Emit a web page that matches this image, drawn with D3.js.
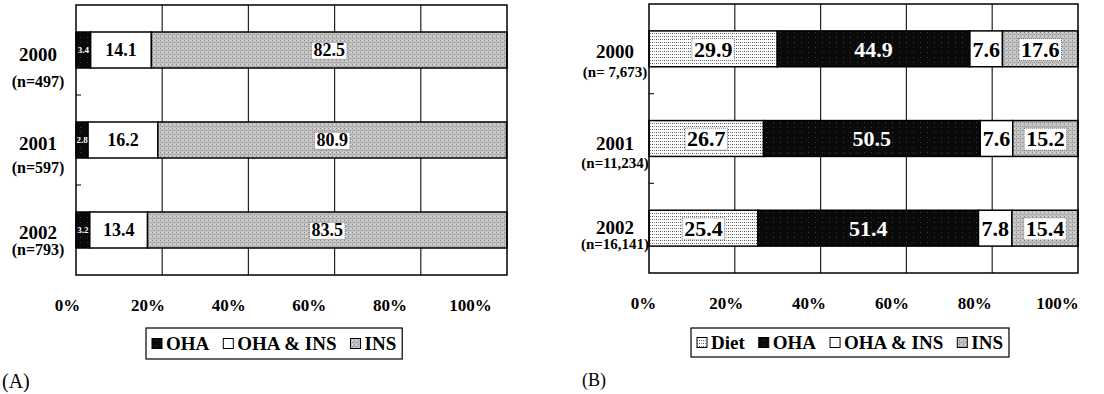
<!DOCTYPE html>
<html>
<head>
<meta charset="utf-8">
<script src="https://cdn.jsdelivr.net/npm/d3@7"></script>
<style>
  body { margin: 0; background: #fff; }
  text { font-family: "Liberation Serif", "DejaVu Serif", serif; }
</style>
</head>
<body>
<div id="chart"></div>
<script>
// Data
var years = ["2000", "2001", "2002"];

// (A)
var nLabelsA = ["(n=497)", "(n=597)", "(n=793)"];
var seriesA = ["OHA", "OHA & INS", "INS"];
var ohaA = [3.4, 2.8, 3.2];
var ohaInsA = [14.1, 16.2, 13.4];
var insA = [82.5, 80.9, 83.5];

// (B)
var nLabelsB = ["(n= 7,673)", "(n=11,234)", "(n=16,141)"];
var seriesB = ["Diet", "OHA", "OHA & INS", "INS"];
var dietB = [29.9, 26.7, 25.4];
var ohaB = [44.9, 50.5, 51.4];
var ohaInsB = [7.6, 7.6, 7.8];
var insB = [17.6, 15.2, 15.4];

var tickValues = [0, 20, 40, 60, 80, 100];

var W = 1104, H = 394;

var svg = d3.select("#chart")
    .append("svg")
        .attr("width", W)
        .attr("height", H);

// Fill patterns to mimic the printed shading
var defs = svg.append("defs");

var pIns = defs.append("pattern")
    .attr("id", "pat-ins")
    .attr("patternUnits", "userSpaceOnUse")
    .attr("width", 4).attr("height", 4);
pIns.append("rect").attr("width", 4).attr("height", 4).attr("fill", "#c2c2c2");
pIns.append("rect").attr("x", 0).attr("y", 0).attr("width", 1).attr("height", 1).attr("fill", "#8a8a8a");
pIns.append("rect").attr("x", 2).attr("y", 2).attr("width", 1).attr("height", 1).attr("fill", "#8a8a8a");
pIns.append("rect").attr("x", 2).attr("y", 0).attr("width", 1).attr("height", 1).attr("fill", "#e6e6e6");
pIns.append("rect").attr("x", 0).attr("y", 2).attr("width", 1).attr("height", 1).attr("fill", "#a0a0a0");

var pDiet = defs.append("pattern")
    .attr("id", "pat-diet")
    .attr("patternUnits", "userSpaceOnUse")
    .attr("width", 4).attr("height", 3);
pDiet.append("rect").attr("width", 4).attr("height", 3).attr("fill", "#fcfcfc");
pDiet.append("rect").attr("x", 0).attr("y", 0).attr("width", 1).attr("height", 1).attr("fill", "#555");
pDiet.append("rect").attr("x", 2).attr("y", 0).attr("width", 1).attr("height", 1).attr("fill", "#888");

var pOha = defs.append("pattern")
    .attr("id", "pat-oha")
    .attr("patternUnits", "userSpaceOnUse")
    .attr("width", 7).attr("height", 5);
pOha.append("rect").attr("width", 7).attr("height", 5).attr("fill", "#0a0a0a");
pOha.append("rect").attr("x", 3).attr("y", 2).attr("width", 1).attr("height", 1).attr("fill", "#3a3a3a");

// style per series name
var seriesStyle = {
    "Diet":      { fill: "url(#pat-diet)", text: "#000", box: true },
    "OHA":       { fill: "url(#pat-oha)",  text: "#fff", box: false },
    "OHA & INS": { fill: "#fff",           text: "#000", box: false },
    "INS":       { fill: "url(#pat-ins)",  text: "#000", box: true }
};

function drawPanel(cfg) {
    var g = svg.append("g");

    var x = d3.scaleLinear().domain([0, 100]).range([cfg.left, cfg.right]);
    var y = d3.scaleBand().domain(years).range([cfg.top, cfg.bottom]);
    var barH = y.bandwidth() * 0.4;

    // stacked rows
    var rows = years.map(function(yr, i) {
        var row = { year: yr };
        cfg.series.forEach(function(s, k) { row[s] = cfg.values[k][i]; });
        return row;
    });
    var stacked = d3.stack().keys(cfg.series)(rows);

    // vertical gridlines (behind bars)
    g.append("g")
        .selectAll("line")
        .data(tickValues.slice(1, -1))
        .enter().append("line")
            .attr("x1", function(d) { return x(d); })
            .attr("x2", function(d) { return x(d); })
            .attr("y1", cfg.top)
            .attr("y2", cfg.bottom)
            .attr("stroke", "#222")
            .attr("stroke-width", 1.2);

    // small left ticks between the rows
    g.append("g")
        .selectAll("line")
        .data(years.slice(1))
        .enter().append("line")
            .attr("x1", cfg.left)
            .attr("x2", cfg.left + 5)
            .attr("y1", function(d) { return y(d); })
            .attr("y2", function(d) { return y(d); })
            .attr("stroke", "#222")
            .attr("stroke-width", 1.2);

    // bars
    var layer = g.selectAll(".layer")
        .data(stacked)
        .enter().append("g")
        .attr("class", "layer");

    layer.selectAll("rect")
        .data(function(d) { return d.map(function(p) { return { key: d.key, p: p }; }); })
        .enter().append("rect")
            .attr("x", function(d) { return x(d.p[0]); })
            .attr("y", function(d) { return y(d.p.data.year) + (y.bandwidth() - barH) / 2; })
            .attr("width", function(d) { return x(Math.min(d.p[1], 100)) - x(d.p[0]); })
            .attr("height", barH)
            .attr("fill", function(d) { return seriesStyle[d.key].fill; })
            .attr("stroke", "#000")
            .attr("stroke-width", 1.5);

    // value labels
    layer.each(function(ld) {
        var st = seriesStyle[ld.key];
        var small = (cfg.smallKey === ld.key);
        ld.forEach(function(p) {
            var cx = x((p[0] + Math.min(p[1], 100)) / 2);
            var cy = y(p.data.year) + y.bandwidth() / 2;
            var lg = g.append("g");
            var t = lg.append("text")
                .attr("x", cx)
                .attr("y", cy)
                .attr("dy", "0.35em")
                .attr("text-anchor", "middle")
                .style("font-size", small ? "9px" : cfg.labelSize)
                .style("font-weight", "bold")
                .attr("fill", st.text)
                .text(d3.format(".1f")(p.data[ld.key]));
            if (st.box) {
                var bb = t.node().getBBox();
                lg.insert("rect", "text")
                    .attr("x", bb.x - 2)
                    .attr("y", bb.y + 2)
                    .attr("width", bb.width + 4)
                    .attr("height", bb.height - 3)
                    .attr("fill", "#fff")
                    .attr("stroke", "#555")
                    .attr("stroke-width", 0.8)
                    .attr("stroke-dasharray", "1,1");
            }
        });
    });

    // plot frame
    g.append("rect")
        .attr("x", cfg.left)
        .attr("y", cfg.top)
        .attr("width", cfg.right - cfg.left)
        .attr("height", cfg.bottom - cfg.top)
        .attr("fill", "none")
        .attr("stroke", "#000")
        .attr("stroke-width", 1.5);

    // category labels
    years.forEach(function(yr, i) {
        var c = y(yr) + y.bandwidth() / 2;
        g.append("text")
            .attr("x", cfg.catX)
            .attr("y", c + cfg.yearDy[i])
            .attr("text-anchor", "middle")
            .style("font-size", "19px")
            .style("font-weight", "bold")
            .text(yr);
        g.append("text")
            .attr("x", cfg.catX)
            .attr("y", c + cfg.nDy[i])
            .attr("text-anchor", "middle")
            .style("font-size", cfg.nSize)
            .style("font-weight", "bold")
            .text(cfg.nLabels[i]);
    });

    // percent axis (labels are printed offset from the grid in the source)
    var xl = d3.scaleLinear().domain([0, 100]).range(cfg.labelRange);
    var ax = g.append("g")
        .attr("transform", "translate(0," + cfg.axisY + ")")
        .call(d3.axisBottom(xl).tickValues(tickValues).tickSize(0).tickFormat(function(d) { return d + "%"; }));
    ax.select(".domain").remove();
    ax.selectAll("text")
        .attr("fill", "#000")
        .style("font-family", "Liberation Serif, serif")
        .style("font-size", "17px")
        .style("font-weight", "bold");

    // legend
    var legend = g.append("g").attr("transform", "translate(" + cfg.legendX + "," + cfg.legendY + ")");
    var frame = legend.append("rect")
        .attr("fill", "#fff")
        .attr("stroke", "#000")
        .attr("stroke-width", 1.2);
    var cursor = 6;
    cfg.series.forEach(function(s) {
        legend.append("rect")
            .attr("x", cursor)
            .attr("y", cfg.legendH / 2 - 5)
            .attr("width", 10)
            .attr("height", 10)
            .attr("fill", seriesStyle[s].fill)
            .attr("stroke", "#000")
            .attr("stroke-width", 1);
        var t = legend.append("text")
            .attr("x", cursor + 14)
            .attr("y", cfg.legendH / 2 + 6)
            .style("font-size", "19px")
            .style("font-weight", "bold")
            .text(s);
        cursor += 14 + t.node().getComputedTextLength() + 14;
    });
    frame.attr("x", 0).attr("y", 0)
        .attr("width", cursor - 8)
        .attr("height", cfg.legendH);

    // panel letter
    g.append("text")
        .attr("x", cfg.letterX)
        .attr("y", cfg.letterY)
        .style("font-size", cfg.letterSize)
        .text(cfg.letter);
}

drawPanel({
    left: 76, right: 507, top: 5, bottom: 275,
    series: seriesA,
    values: [ohaA, ohaInsA, insA],
    smallKey: "OHA",
    labelSize: "18px",
    catX: 38, yearDy: [11, 10, 9], nDy: [37, 33, 25],
    nLabels: nLabelsA, nSize: "16px",
    labelRange: [67, 470], axisY: 296,
    legendX: 146, legendY: 328, legendH: 31,
    letter: "(A)", letterSize: "20px", letterX: 2, letterY: 388
});

drawPanel({
    left: 649, right: 1078, top: 4, bottom: 273,
    series: seriesB,
    values: [dietB, ohaB, ohaInsB, insB],
    smallKey: null,
    labelSize: "22px",
    catX: 615, yearDy: [9, 11, 6], nDy: [28, 29, 21],
    nLabels: nLabelsB, nSize: "15px",
    labelRange: [643, 1057], axisY: 294,
    legendX: 691, legendY: 328, legendH: 29,
    letter: "(B)", letterSize: "18px", letterX: 582, letterY: 386
});
</script>
</body>
</html>
